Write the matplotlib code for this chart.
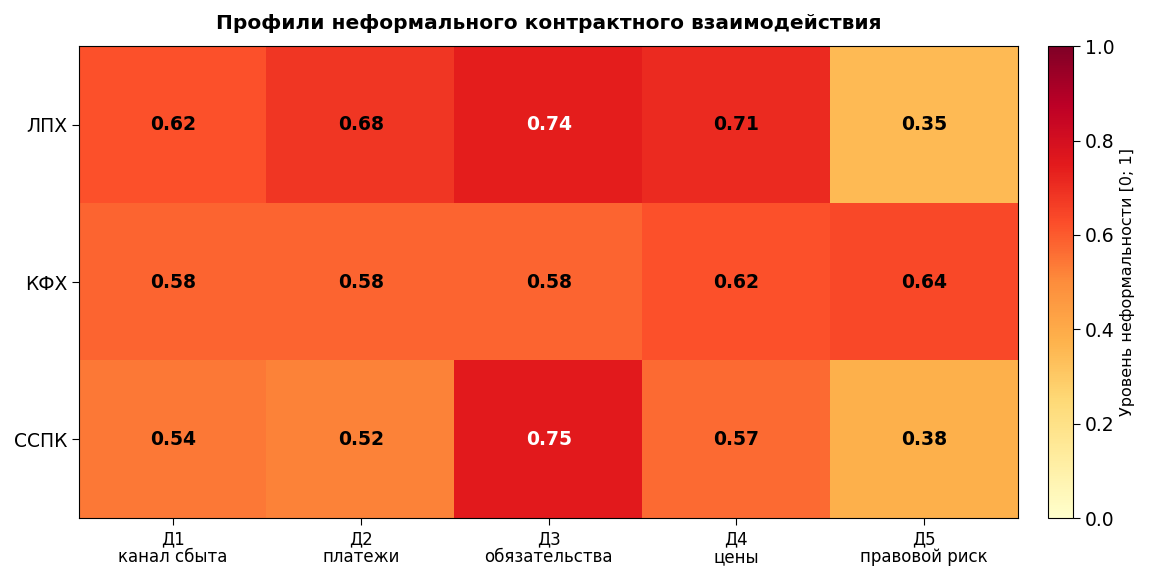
import numpy as np
import matplotlib
matplotlib.use("Agg")
import matplotlib.pyplot as plt

# data
rows = ["ЛПХ", "КФХ", "ССПК"]
cols = ["Д1\nканал сбыта", "Д2\nплатежи", "Д3\nобязательства", "Д4\nцены", "Д5\nправовой риск"]
lph = [0.62, 0.68, 0.74, 0.71, 0.35]
kfh = [0.58, 0.58, 0.58, 0.62, 0.64]
sspk = [0.54, 0.52, 0.75, 0.57, 0.38]

vals = np.array([lph, kfh, sspk])

fig = plt.figure(figsize=(11.49, 5.77), dpi=100)
ax = fig.add_axes([0.069, 0.102, 0.817, 0.818])
cax = fig.add_axes([0.912, 0.102, 0.022, 0.818])

im = ax.imshow(vals, cmap="YlOrRd", vmin=0, vmax=1, aspect="auto")
ax.set_xticks(range(len(cols)))
ax.set_xticklabels(cols, fontsize=12, linespacing=1.0)
ax.set_yticks(range(len(rows)))
ax.set_yticklabels(rows, fontsize=13.5)
ax.tick_params(length=5)

for i in range(vals.shape[0]):
    for j in range(vals.shape[1]):
        v = vals[i, j]
        c = "white" if v > 0.72 else "black"
        ax.text(j, i, "%.2f" % v, ha="center", va="center",
                fontsize=13.5, fontweight="bold", color=c)

ax.set_title("Профили неформального контрактного взаимодействия",
             fontsize=14.5, fontweight="bold", pad=12)

cb = fig.colorbar(im, cax=cax)
cb.ax.tick_params(labelsize=13.5, length=5)
cb.set_label("Уровень неформальности [0; 1]", fontsize=11.5)

fig.savefig("out.png", dpi=100)
